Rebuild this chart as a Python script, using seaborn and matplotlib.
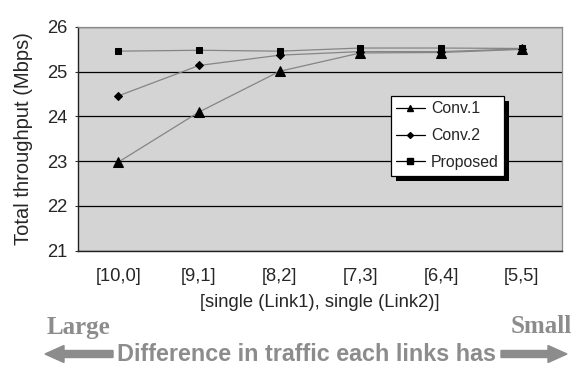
import numpy as np
import pandas as pd
import matplotlib
matplotlib.use("Agg")
import matplotlib.pyplot as plt
import seaborn as sns
from matplotlib.lines import Line2D
from matplotlib.patches import FancyArrow, Rectangle

categories = ["[10,0]", "[9,1]", "[8,2]", "[7,3]", "[6,4]", "[5,5]"]
conv1 = [22.98, 24.10, 25.01, 25.42, 25.43, 25.50]
conv2 = [24.46, 25.14, 25.37, 25.45, 25.45, 25.51]
proposed = [25.46, 25.48, 25.46, 25.53, 25.53, 25.52]
series_names = ["Conv.1", "Conv.2", "Proposed"]


def main():
    df = pd.concat([
        pd.DataFrame({"pos": np.arange(len(categories)), "value": vals, "series": name})
        for name, vals in zip(series_names, [conv1, conv2, proposed])
    ])

    sns.set_theme(style="white")
    plt.rcParams["font.family"] = ["Liberation Sans", "DejaVu Sans"]

    W, H = 579, 367
    fig = plt.figure(figsize=(W / 100, H / 100), dpi=100)
    ax = fig.add_axes([78 / W, 1 - 250.7 / H, 484 / W, 223.7 / H])
    ax.set_facecolor("#d4d4d4")

    markers = {"Conv.1": "^", "Conv.2": "D", "Proposed": "s"}
    sizes = {"Conv.1": 6.5, "Conv.2": 4, "Proposed": 5}
    for name in series_names:
        sub = df[df["series"] == name]
        sns.lineplot(data=sub, x="pos", y="value", ax=ax, color="#858585",
                     linewidth=0.9, marker=markers[name], markersize=sizes[name],
                     markerfacecolor="black", markeredgecolor="black",
                     legend=False, zorder=3)

    ax.set_xlim(-0.5, 5.5)
    ax.set_ylim(21, 26)
    ax.set_yticks([21, 22, 23, 24, 25, 26])
    ax.yaxis.grid(True, color="black", linewidth=0.9)
    ax.set_axisbelow(True)

    # category labels sit between the tick marks
    ax.set_xticks(np.arange(len(categories)) + 0.5)
    ax.set_xticklabels([])
    ax.set_xticks(np.arange(len(categories)), minor=True)
    ax.set_xticklabels(categories, minor=True, fontsize=13.2)
    ax.tick_params(axis="x", which="major", direction="in", length=4, color="#333333", width=0.8)
    ax.tick_params(axis="x", which="minor", length=0, pad=12.5)
    ax.tick_params(axis="y", which="major", left=True, length=2, width=0.8, color="#333333",
                   labelsize=13.2, pad=5.5)

    for side in ["left", "bottom"]:
        ax.spines[side].set_color("#222222")
        ax.spines[side].set_linewidth(1.0)
    for side in ["top", "right"]:
        ax.spines[side].set_color("#8a8a8a")
        ax.spines[side].set_linewidth(0.9)

    ax.set_xlabel("[single (Link1), single (Link2)]", fontsize=13.2)
    ax.xaxis.set_label_coords(0.5, -0.195)
    ax.set_ylabel("Total throughput (Mbps)", fontsize=14.5)
    ax.yaxis.set_label_coords(-0.093, 0.5)

    handles = [Line2D([0], [0], color="black", linewidth=0.9, marker=markers[n],
                      markersize=sizes[n] * 0.75, markerfacecolor="black",
                      markeredgecolor="black") for n in series_names]
    leg = fig.legend(handles, series_names, loc="upper left",
                     bbox_to_anchor=(390.7 / W, 1 - 95.7 / H), frameon=True, fancybox=False,
                     edgecolor="black", facecolor="white", framealpha=1,
                     fontsize=11.4, handlelength=1.8, handletextpad=0.4,
                     borderpad=0.35, labelspacing=0.75, borderaxespad=0)
    leg.get_frame().set_linewidth(0.9)
    leg.set_zorder(3)
    fig.canvas.draw()
    bb = leg.get_window_extent().transformed(fig.transFigure.inverted())
    dx, dy = 5 / W, 5.5 / H
    fig.patches.append(Rectangle((bb.x0 + dx, bb.y0 - dy), bb.width, bb.height,
                                 transform=fig.transFigure, facecolor="black",
                                 edgecolor="none", zorder=2, figure=fig))

    grey = "#8c8c8c"
    fig.text(46.7 / W, 1 - 334 / H, "Large", family="Liberation Serif", weight="bold",
             color=grey, fontsize=18, ha="left", va="baseline")
    fig.text(572 / W, 1 - 333 / H, "Small", family="Liberation Serif", weight="bold",
             color=grey, fontsize=18, ha="right", va="baseline")
    fig.text(306.5 / W, 1 - 361 / H, "Difference in traffic each links has",
             weight="bold", color=grey, fontsize=16.8, ha="center", va="baseline")
    ay = 1 - 354 / H
    fig.patches.append(FancyArrow(113 / W, ay, -68 / W, 0, width=7 / H,
                                  head_width=17 / H, head_length=19 / W,
                                  length_includes_head=True, color=grey,
                                  transform=fig.transFigure, figure=fig))
    fig.patches.append(FancyArrow(501 / W, ay, 66 / W, 0, width=7 / H,
                                  head_width=17 / H, head_length=19 / W,
                                  length_includes_head=True, color=grey,
                                  transform=fig.transFigure, figure=fig))

    fig.savefig("out.png", dpi=100)


if __name__ == "__main__":
    main()
